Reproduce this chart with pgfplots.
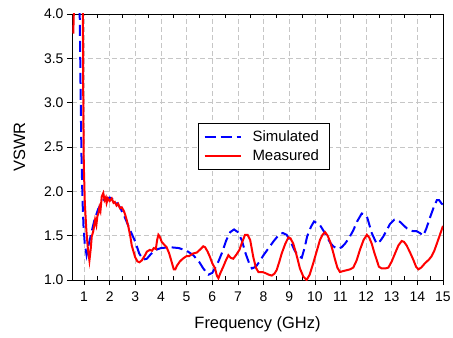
\documentclass[border=0pt]{standalone}
\usepackage{fontspec}
\setmainfont{Liberation Sans}
\usepackage{pgfplots}
\pgfplotsset{compat=1.18}
\begin{document}
\begin{tikzpicture}
\begin{axis}[
  scale only axis, width=371bp, height=266bp,
  xmin=0.53, xmax=15, ymin=1, ymax=4,
  xtick={1,2,...,15}, ytick={1,1.5,...,4},
  xtick pos=bottom, ytick pos=left,
  tick align=outside, major tick length=5bp,
  extra x ticks={1.5,2.5,...,14.5},
  extra x tick labels={},
  extra x tick style={grid=none, tick align=inside, xtick pos=both, major tick length=4bp},
  tick style={black, line width=0.6pt},
  axis line style={black, line width=0.8pt},
  grid=major,
  major grid style={gray!45, dash pattern=on 5bp off 3bp, line width=0.6pt},
  /pgf/number format/assume math mode=true,
  yticklabel style={/pgf/number format/fixed, /pgf/number format/fixed zerofill, /pgf/number format/precision=1},
  tick label style={font=\fontsize{14}{16}\selectfont},
  x tick label style={yshift=-3bp},
  xlabel={Frequency (GHz)}, ylabel={VSWR},
  label style={font=\fontsize{16.5}{19}\selectfont},
  xlabel shift=3bp, ylabel shift=12bp,
  legend style={at={(rel axis cs:0.34,0.59)}, anchor=north west, draw=black, line width=0.8pt,
    font=\fontsize{15}{17}\selectfont, row sep=3bp, inner xsep=5bp, inner ysep=5bp,
    nodes={inner xsep=5bp}},
  legend cell align=left,
  legend image code/.code={\draw[#1] (0bp,0bp) -- (36bp,0bp); \path (42bp,0bp);},
]
\coordinate (sw) at (rel axis cs:0,0);
\coordinate (ne) at (rel axis cs:1,1);
\addplot[blue, line width=2bp, dash pattern=on 11bp off 5bp] coordinates {
(0.80,4.6) (0.84,3.8) (0.87,3.0) (0.90,2.4) (0.94,1.9) (0.98,1.6) (1.03,1.4) (1.10,1.28) (1.18,1.40) (1.30,1.55) (1.40,1.67) (1.55,1.80) (1.75,1.90) (2.0,1.93) (2.2,1.90) (2.4,1.82) (2.6,1.70) (2.8,1.56) (3.0,1.43) (3.15,1.30) (3.3,1.23) (3.45,1.24) (3.6,1.29) (3.8,1.34) (4.0,1.36) (4.35,1.37) (4.7,1.36) (5.0,1.33) (5.26,1.28) (5.5,1.20) (5.65,1.13) (5.85,1.06) (6.0,1.08) (6.2,1.18) (6.37,1.30) (6.55,1.45) (6.7,1.54) (6.85,1.57) (7.0,1.54) (7.15,1.45) (7.3,1.30) (7.45,1.18) (7.55,1.13) (7.7,1.15) (7.85,1.21) (8.0,1.28) (8.2,1.36) (8.4,1.44) (8.6,1.51) (8.75,1.53) (8.9,1.51) (9.05,1.44) (9.2,1.34) (9.35,1.27) (9.49,1.25) (9.6,1.36) (9.7,1.49) (9.85,1.60) (9.97,1.66) (10.1,1.64) (10.2,1.62) (10.35,1.55) (10.47,1.49) (10.6,1.42) (10.72,1.38) (10.9,1.35) (11.05,1.37) (11.18,1.41) (11.35,1.48) (11.5,1.56) (11.65,1.66) (11.83,1.75) (11.95,1.74) (12.05,1.70) (12.22,1.53) (12.41,1.41) (12.55,1.44) (12.67,1.49) (12.8,1.56) (12.93,1.63) (13.1,1.68) (13.2,1.68) (13.35,1.65) (13.45,1.62) (13.6,1.58) (13.71,1.56) (13.85,1.55) (13.97,1.55) (14.1,1.53) (14.23,1.50) (14.35,1.58) (14.5,1.71) (14.65,1.83) (14.76,1.90) (14.85,1.90) (14.95,1.86) (15,1.85)
};
\addlegendentry{Simulated}
\addplot[red, line width=2bp] coordinates {
(0.58,3.78) (0.60,4.0) (0.63,4.6) (0.70,5.0) (0.90,5.0) (0.95,4.3) (0.97,3.0) (0.99,2.3) (1.03,1.87) (1.09,1.56) (1.15,1.35) (1.21,1.22) (1.26,1.35) (1.30,1.49) (1.36,1.55) (1.43,1.68) (1.48,1.62) (1.52,1.72) (1.56,1.75) (1.6,1.82) (1.64,1.78) (1.69,1.94) (1.75,1.98) (1.8,1.90) (1.85,1.93) (1.88,1.87) (1.93,1.92) (2.0,1.89) (2.08,1.92) (2.15,1.87) (2.2,1.88) (2.27,1.84) (2.33,1.86) (2.4,1.81) (2.47,1.82) (2.55,1.78) (2.6,1.74) (2.67,1.67) (2.73,1.60) (2.8,1.50) (2.86,1.39) (2.93,1.32) (2.99,1.26) (3.08,1.21) (3.16,1.20) (3.25,1.22) (3.38,1.28) (3.45,1.32) (3.57,1.34) (3.65,1.33) (3.72,1.36) (3.8,1.35) (3.85,1.45) (3.9,1.51) (3.95,1.49) (4.03,1.43) (4.12,1.40) (4.22,1.37) (4.32,1.30) (4.42,1.20) (4.5,1.12) (4.56,1.12) (4.62,1.16) (4.74,1.21) (4.85,1.24) (5.0,1.27) (5.1,1.27) (5.26,1.30) (5.4,1.31) (5.55,1.35) (5.65,1.38) (5.72,1.37) (5.82,1.32) (5.91,1.26) (6.0,1.19) (6.11,1.13) (6.18,1.05) (6.24,1.02) (6.32,1.08) (6.43,1.15) (6.53,1.22) (6.63,1.28) (6.72,1.25) (6.82,1.24) (6.95,1.29) (7.06,1.34) (7.17,1.43) (7.28,1.51) (7.38,1.51) (7.48,1.45) (7.6,1.26) (7.7,1.14) (7.8,1.09) (7.95,1.09) (8.06,1.08) (8.2,1.06) (8.32,1.05) (8.42,1.07) (8.51,1.11) (8.62,1.21) (8.71,1.30) (8.85,1.41) (8.97,1.48) (9.05,1.47) (9.16,1.41) (9.28,1.29) (9.42,1.13) (9.55,1.04) (9.68,1.00) (9.8,1.06) (9.94,1.19) (10.07,1.32) (10.2,1.45) (10.3,1.51) (10.4,1.54) (10.5,1.50) (10.6,1.43) (10.7,1.33) (10.79,1.23) (10.88,1.14) (10.98,1.09) (11.1,1.10) (11.24,1.11) (11.37,1.12) (11.5,1.14) (11.63,1.22) (11.76,1.34) (11.9,1.45) (12.03,1.51) (12.12,1.48) (12.22,1.41) (12.32,1.31) (12.41,1.23) (12.5,1.15) (12.61,1.13) (12.75,1.13) (12.87,1.14) (13.0,1.21) (13.13,1.30) (13.26,1.39) (13.39,1.44) (13.48,1.43) (13.58,1.39) (13.7,1.32) (13.84,1.23) (13.95,1.15) (14.04,1.12) (14.15,1.14) (14.3,1.19) (14.45,1.23) (14.56,1.27) (14.66,1.33) (14.76,1.41) (14.88,1.51) (15.0,1.61)
};
\addlegendentry{Measured}
\end{axis}
\pgfresetboundingbox
\path ([shift={(-72bp,-58bp)}]sw) rectangle ([shift={(10bp,14bp)}]ne);
\end{tikzpicture}
\end{document}
